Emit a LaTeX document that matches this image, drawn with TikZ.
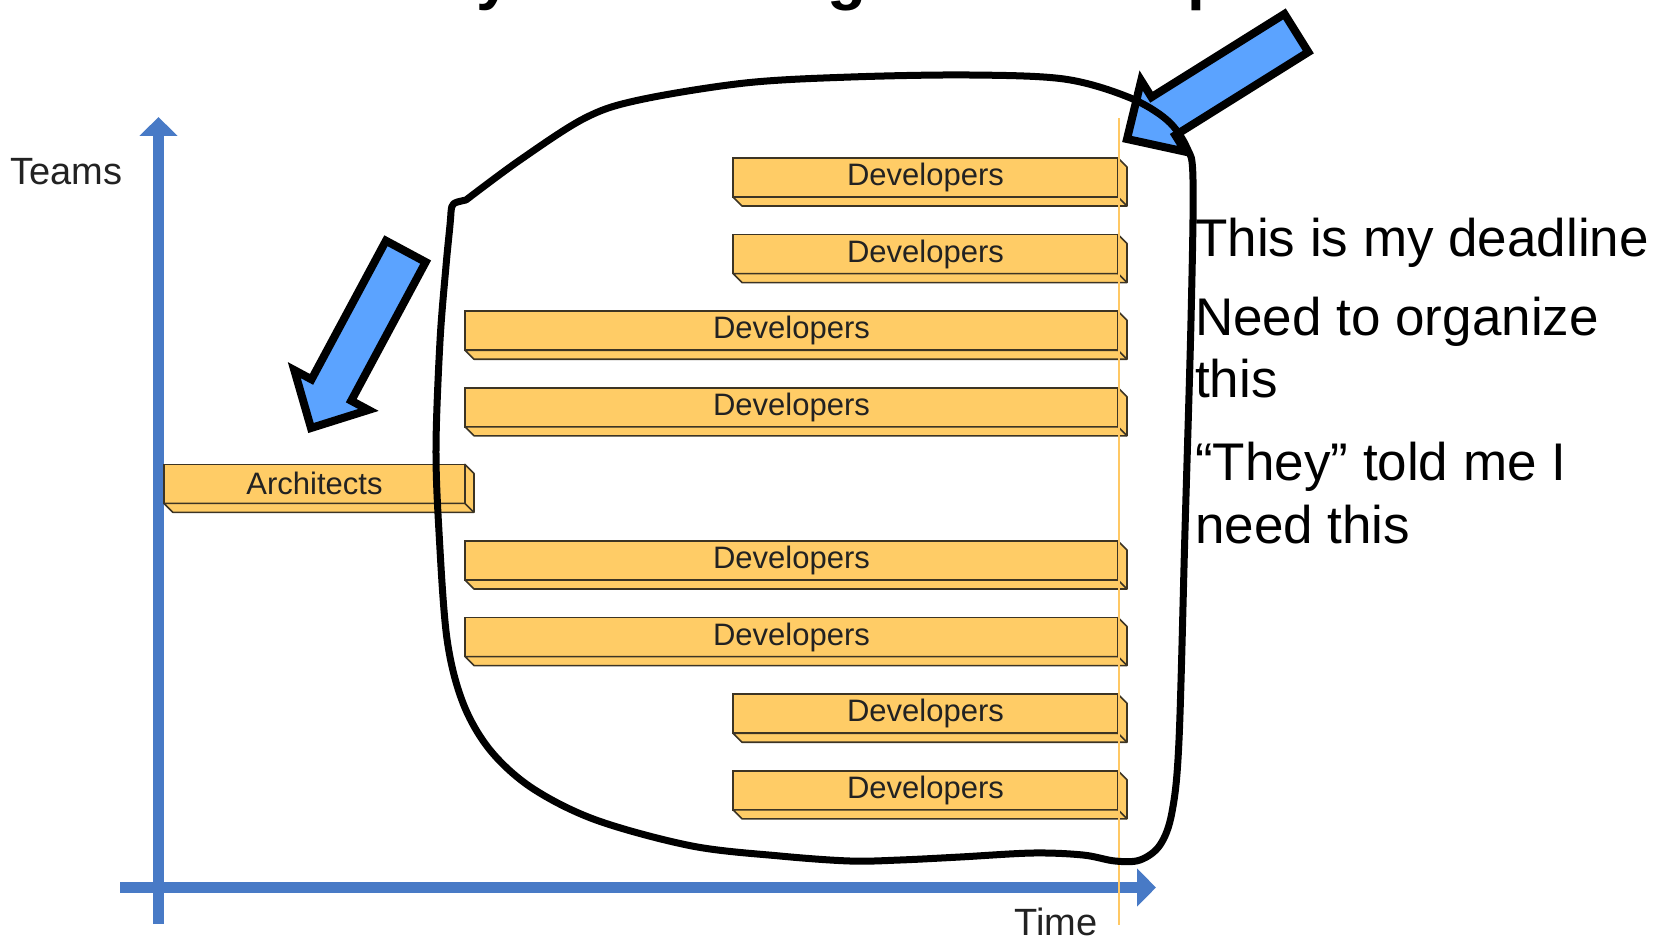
\documentclass[tikz,border=0pt]{standalone}
\usepackage{fontspec}
\setmainfont{Liberation Sans}
\usetikzlibrary{arrows.meta}
\definecolor{barfill}{RGB}{255,204,102}
\definecolor{barline}{RGB}{60,52,36}
\definecolor{axisblue}{RGB}{72,122,198}
\definecolor{arrowblue}{RGB}{91,163,255}
\definecolor{deadline}{RGB}{255,200,100}
\definecolor{labelgray}{RGB}{34,34,34}
\begin{document}
\begin{tikzpicture}[x=1pt,y=-1pt,
  bar/.style={draw=barline, line width=1.6pt, fill=barfill, minimum height=39pt,
    inner sep=0pt, outer sep=0pt, anchor=north west,
    font=\fontsize{31pt}{31pt}\selectfont, text=labelgray},
  barside/.style={draw=barline, line width=1.6pt, fill=barfill, line join=round},
  axis/.style={axisblue, line width=11pt, -{Triangle[width=37pt,length=19pt]}},
  blockarrow/.style={draw=black, line width=8pt, fill=arrowblue, line join=miter},
  blob/.style={draw=black, line width=7pt, line cap=round, line join=round},
  note/.style={anchor=base west, inner sep=0pt, font=\fontsize{53pt}{62pt}\selectfont},
  axislabel/.style={anchor=base west, inner sep=0pt,
    font=\fontsize{38pt}{38pt}\selectfont, text=labelgray},
  titlepart/.style={anchor=base west, inner sep=0pt,
    font=\fontsize{64pt}{64pt}\selectfont\bfseries}
]
\useasboundingbox (0,0) rectangle (1669,941);

% heading, mostly above the top edge
\begin{scope}
  \clip (0,0) rectangle (1669,941);
  \node[titlepart] (ty) at (476,-2) {y};
  \node[titlepart] (tg) at (827,-2) {g};
  \node[titlepart] (tp) at (1187,-2) {p};
\end{scope}

% axes
\coordinate (ybot) at (158.5,924);
\coordinate (ytop) at (158.5,117);
\coordinate (xleft) at (120,887.5);
\coordinate (xright) at (1156,887.5);
\draw[axis] (ybot) -- (ytop);
\draw[axis] (xleft) -- (xright);
\node[axislabel] (teams) at (10,185) {Teams};
\node[axislabel] (time) at (1014,935) {Time};

% team bars
\node[bar, minimum width=385pt] (dev1) at (733,158) {Developers};
\node[bar, minimum width=385pt] (dev2) at (733,234.6) {Developers};
\node[bar, minimum width=653pt] (dev3) at (465,311.2) {Developers};
\node[bar, minimum width=653pt] (dev4) at (465,387.8) {Developers};
\node[bar, minimum width=301pt] (arch) at (164,464.4) {Architects};
\node[bar, minimum width=653pt] (dev5) at (465,541) {Developers};
\node[bar, minimum width=653pt] (dev6) at (465,617.6) {Developers};
\node[bar, minimum width=385pt] (dev7) at (733,694.2) {Developers};
\node[bar, minimum width=385pt] (dev8) at (733,770.8) {Developers};
\foreach \b in {dev1,dev2,dev3,dev4,arch,dev5,dev6,dev7,dev8} {
  \draw[barside] (\b.south west) -- (\b.south east) -- (\b.north east)
    -- ([shift={(9,9)}]\b.north east) -- ([shift={(9,9)}]\b.south east)
    -- ([shift={(9,9)}]\b.south west) -- cycle;
  \draw[barline, line width=1.6pt] (\b.south east) -- ([shift={(9,9)}]\b.south east);
}

% deadline marker
\coordinate (dtop) at (1119,118);
\coordinate (dbot) at (1119,925);
\draw[deadline, line width=2.5pt] (dtop) -- (dbot);

% block arrows
\begin{scope}[shift={(311pt,-428pt)}, x={(-0.474pt,-0.883pt)}, y={(0.883pt,-0.474pt)}]
  \draw[blockarrow] (0,0) -- (-43,42) -- (-43,22.5) -- (-200,22.5)
    -- (-200,-22.5) -- (-43,-22.5) -- (-43,-42) -- cycle;
\end{scope}
\begin{scope}[shift={(1127pt,-139pt)}, x={(-0.847pt,-0.53pt)}, y={(0.53pt,-0.847pt)}]
  \draw[blockarrow] (0,0) -- (-43,42) -- (-43,22.5) -- (-200,22.5)
    -- (-200,-22.5) -- (-43,-22.5) -- (-43,-42) -- cycle;
\end{scope}

% hand-drawn loop round the developer teams
\draw[blob] plot[smooth, tension=0.55] coordinates {
  (466,200) (520,160) (585,118) (639,100) (745,83) (851,77) (969,75)
  (1064,79) (1128,97) (1167,120) (1187,148) (1193,180) (1191,320)
  (1185,530) (1179,740) (1172,812) (1160,845) (1140,860) (1115,861)
  (1083,855) (1033,853) (960,857) (900,860) (850,861) (780,856)
  (692,846) (596,820) (532,788) (490,750) (463,703) (447,639)
  (439,532) (436,447) (440,341) (446,266) (450,225) (451,212)}
  .. controls (452,203) .. (466,200);

% notes
\node[note] (n1) at (1195,257) {This is my deadline};
\node[note] (n2) at (1195,335) {Need to organize};
\node[note] (n3) at (1195,397) {this};
\node[note] (n4) at (1195,480) {“They” told me I};
\node[note] (n5) at (1195,543) {need this};
\end{tikzpicture}
\end{document}
